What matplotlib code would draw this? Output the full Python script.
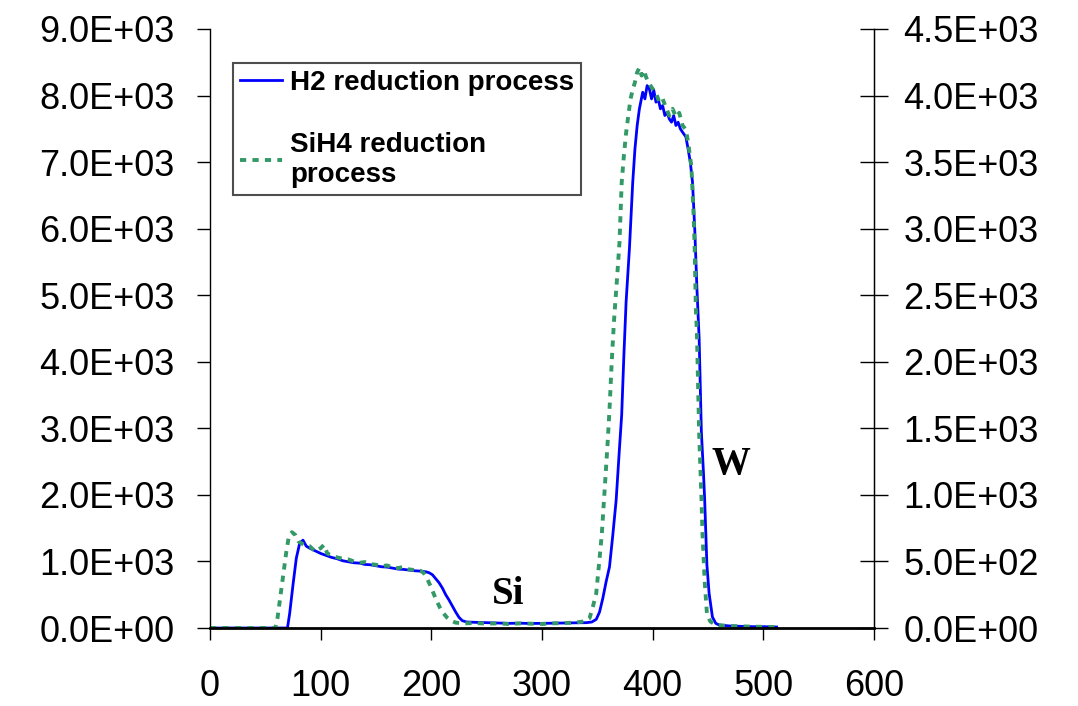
import matplotlib.pyplot as plt
from matplotlib.ticker import FormatStrFormatter

# H2 reduction process (blue, solid)
h2_x = [0, 60, 70, 72, 75, 78, 81, 84, 87, 90, 95, 100, 105, 110, 115, 120, 125, 130,
        135, 140, 145, 150, 155, 160, 165, 170, 175, 180, 185, 190, 195, 198, 201, 204,
        207, 210, 213, 216, 219, 222, 225, 228, 232, 240, 250, 260, 270, 280, 290, 300,
        310, 320, 330, 340, 345, 349, 352, 355, 358, 361, 364, 367, 370, 372, 374, 376,
        379, 382, 384, 386, 388, 391, 393, 395, 397, 399, 401, 403, 405, 407, 409, 411,
        413, 415, 417, 419, 421, 423, 425, 427, 430, 432, 434, 436, 438, 440, 442, 444,
        446, 447, 449, 451, 454, 457, 460, 470, 480, 490, 500, 512]
h2_y = [0, 0, 0, 220, 650, 1050, 1270, 1320, 1230, 1200, 1160, 1120, 1090, 1060, 1040,
        1010, 995, 980, 975, 955, 950, 935, 920, 915, 900, 885, 880, 870, 860, 855, 845,
        830, 800, 740, 680, 600, 500, 420, 330, 240, 160, 110, 90, 85, 80, 75, 70, 72, 68,
        70, 72, 75, 78, 80, 90, 130, 240, 450, 700, 920, 1400, 1920, 2700, 3200, 4100,
        4900, 5700, 6700, 7200, 7550, 7800, 8050, 7950, 8150, 8100, 7950, 8080, 7900, 7950,
        7800, 7850, 7700, 7750, 7650, 7600, 7700, 7550, 7600, 7500, 7450, 7380, 7200, 7000,
        6700, 6000, 5100, 4350, 2950, 2300, 1920, 950, 520, 165, 70, 45, 30, 25, 20, 20, 15]

# SiH4 reduction process (green, dashed)
sih4_x = [0, 59, 61, 63, 65, 67, 69, 71, 74, 77, 80, 83, 86, 90, 95, 100, 103, 106, 110,
          115, 120, 125, 130, 135, 140, 145, 150, 155, 160, 165, 170, 175, 180, 185, 190,
          193, 196, 199, 202, 205, 208, 211, 214, 218, 222, 230, 240, 250, 260, 270, 280,
          290, 300, 310, 320, 330, 338, 343, 346, 349, 351, 354, 356, 359, 361, 363, 365,
          368, 370, 372, 374, 376, 378, 380, 382, 384, 386, 388, 390, 392, 394, 396, 398,
          400, 403, 406, 409, 412, 415, 418, 421, 424, 427, 430, 432, 435, 437, 438, 439,
          440, 442, 444, 445, 447, 449, 452, 457, 470, 490, 510]
sih4_y = [0, 0, 150, 400, 650, 900, 1150, 1350, 1440, 1400, 1300, 1270, 1240, 1230, 1150,
          1200, 1250, 1120, 1090, 1060, 1040, 1030, 1000, 980, 990, 960, 950, 930, 940, 910,
          900, 920, 880, 870, 860, 830, 750, 640, 520, 400, 300, 220, 160, 110, 80, 70, 75,
          65, 70, 60, 70, 65, 60, 70, 75, 80, 100, 150, 320, 520, 870, 1400, 1920, 2700,
          3280, 4000, 4600, 5300, 5790, 6690, 7100, 7440, 7700, 7950, 8090, 8200, 8350,
          8420, 8300, 8380, 8280, 8200, 8150, 8100, 8040, 7900, 7950, 7820, 7700, 7800,
          7680, 7740, 7550, 7490, 7300, 6930, 6200, 5680, 4800, 4430, 2930, 2000, 1430,
          700, 225, 100, 45, 30, 20, 15]

left_ticks = [0, 1000, 2000, 3000, 4000, 5000, 6000, 7000, 8000, 9000]
right_ticks = [0, 500, 1000, 1500, 2000, 2500, 3000, 3500, 4000, 4500]
x_ticks = [0, 100, 200, 300, 400, 500, 600]

plt.rcParams['font.family'] = ['Liberation Sans', 'DejaVu Sans']

fig = plt.figure(figsize=(10.78, 7.06), dpi=100)
ax = fig.add_axes([210 / 1078, 78 / 706, 664 / 1078, 599 / 706])

ax.plot(h2_x, h2_y, color='#0000FF', lw=2, label='H2 reduction process')
ax.plot(sih4_x, sih4_y, color='#339966', lw=2.8, ls=(0, (1.6, 1.6)),
        label='SiH4 reduction\nprocess')

ax.set_xlim(0, 600)
ax.set_ylim(0, 9000)
ax.set_xticks(x_ticks)
ax.set_yticks(left_ticks)
ax.yaxis.set_major_formatter(FormatStrFormatter('%.1E'))
ax.tick_params(axis='y', direction='out', length=9.5, width=1, labelsize=26, pad=16)
ax.tick_params(axis='x', direction='out', length=8.5, width=1, labelsize=26, pad=21)
ax.spines['top'].set_visible(False)
ax.spines['bottom'].set_linewidth(2)
ax.spines['left'].set_linewidth(1)
ax.spines['right'].set_linewidth(1)

ax2 = ax.twinx()
ax2.set_ylim(0, 4500)
ax2.set_yticks(right_ticks)
ax2.yaxis.set_major_formatter(FormatStrFormatter('%.1E'))
ax2.tick_params(axis='y', direction='inout', length=20, width=1, labelsize=26, pad=11)
ax2.spines['top'].set_visible(False)
ax2.spines['bottom'].set_visible(False)
ax2.spines['left'].set_visible(False)

ax.text(269, 500, 'Si', family='Liberation Serif', weight='bold', fontsize=28,
        ha='center', va='center')
ax.text(471, 2450, 'W', family='Liberation Serif', weight='bold', fontsize=28,
        ha='center', va='center')

leg = ax.legend(loc='upper left', bbox_to_anchor=(23 / 664, 1 - 34 / 599),
                prop={'weight': 'bold', 'size': 20}, frameon=True, fancybox=False,
                handlelength=1.5, handletextpad=0.3, labelspacing=1.3,
                borderpad=0.25, borderaxespad=0)
leg.get_frame().set_edgecolor('#222222')
leg.get_frame().set_linewidth(1.5)

fig.savefig('out.png', dpi=100)
